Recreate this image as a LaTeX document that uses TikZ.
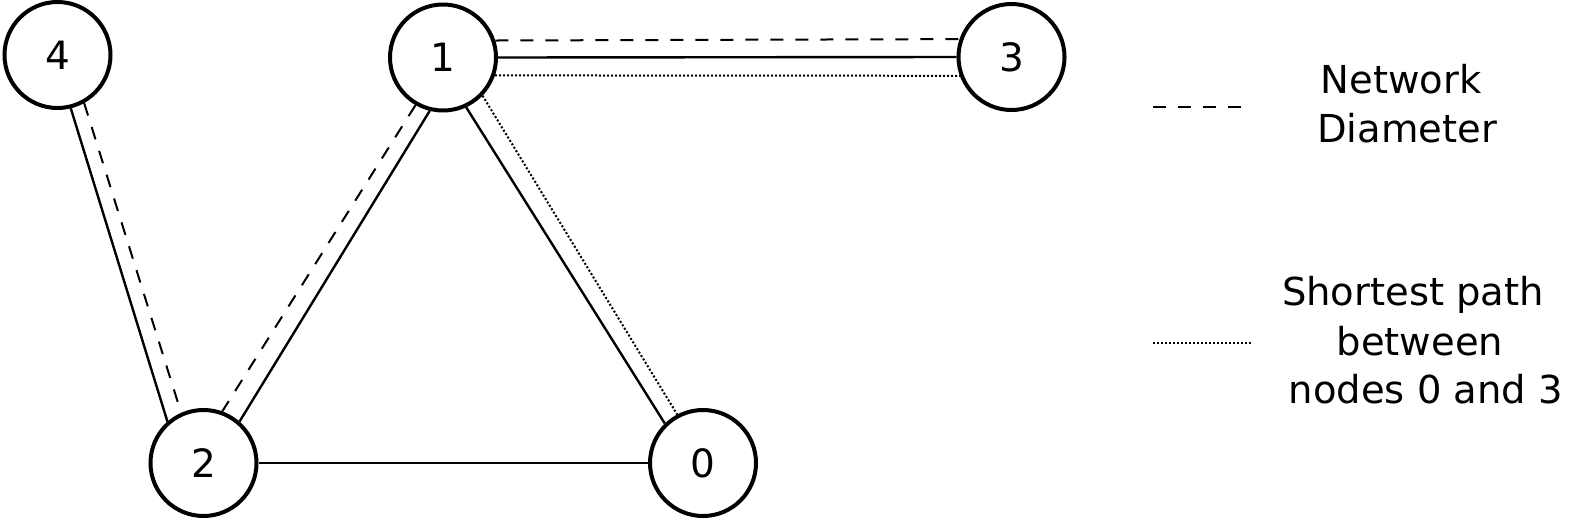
\documentclass[tikz,border=0pt]{standalone}
\usepackage{fontspec}
\setmainfont{DejaVu Sans}
\tikzset{
  vert/.style={circle, draw, line width=4pt, minimum size=106pt, inner sep=0pt, font=\fontsize{39}{46}\selectfont},
  solidedge/.style={line width=2.4pt},
  diamedge/.style={line width=2pt, dash pattern=on 13pt off 12pt},
  pathedge/.style={line width=2pt, dash pattern=on 2pt off 2pt},
  legtext/.style={anchor=base, inner sep=0pt, font=\fontsize{38.5}{49}\selectfont}
}
\begin{document}
\begin{tikzpicture}[x=1pt, y=-1pt]
\useasboundingbox (0,0) rectangle (1583,520);
\node[vert] (n4) at (57.5,55) {4};
\node[vert] (n1) at (443,57.5) {1};
\node[vert] (n3) at (1011.5,57) {3};
\node[vert] (n2) at (203.5,463) {2};
\node[vert] (n0) at (703,463) {0};
% edges
\draw[solidedge] (n4.-76) -- (n2.131);
\draw[diamedge] (n4.-61) -- (n2.114);
\draw[solidedge] (n1.-104) -- (n2.49);
\draw[diamedge] (n1.-120) -- (n2.70);
\draw[solidedge] (n1.-65) -- (n0.134);
\draw[pathedge] (n1.-44) -- (n0.118);
\draw[diamedge] (n1.18.7) -- (n3.161.3);
\draw[solidedge] (n1.east) -- (n3.west);
\draw[pathedge] (n1.-19.9) -- (n3.-160.1);
\draw[solidedge] (n2.east) -- (n0.west);
% legend
\coordinate (la1) at (1153,107);
\coordinate (la2) at (1242,107);
\coordinate (lb1) at (1153,343);
\coordinate (lb2) at (1252,343);
\draw[diamedge] (la1) -- (la2);
\draw[pathedge] (lb1) -- (lb2);
\node[legtext] (t1) at (1401,93) {Network};
\node[legtext] (t2) at (1407,142) {Diameter};
\node[legtext] (t3) at (1413,305) {Shortest path};
\node[legtext] (t4) at (1420,355) {between};
\node[legtext] (t5) at (1426,403) {nodes 0 and 3};
\end{tikzpicture}
\end{document}
